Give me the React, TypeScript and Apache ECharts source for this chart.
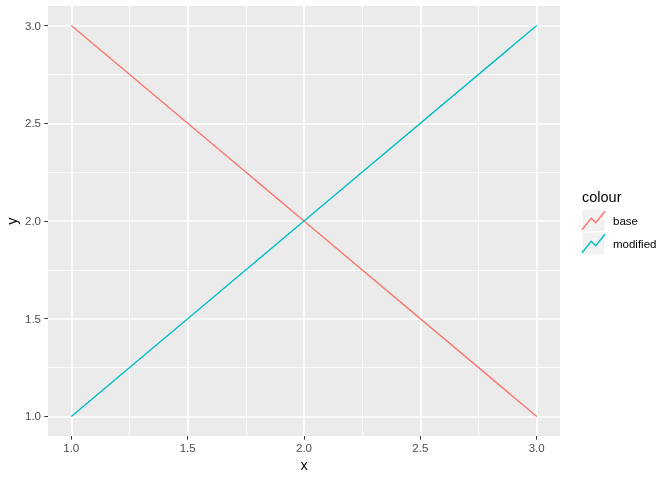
import React, { useEffect, useRef } from "react";
import * as echarts from "echarts";

const xValues = [1, 2, 3];
const baseValues = [3, 2, 1];
const modifiedValues = [1, 2, 3];
const seriesNames = ["base", "modified"];
const seriesColors = ["#F8766D", "#00BFC4"];
const xMajor = [1, 1.5, 2, 2.5, 3];
const xMinor = [1.25, 1.75, 2.25, 2.75];
const yMajor = [1, 1.5, 2, 2.5, 3];
const yMinor = [1.25, 1.75, 2.25, 2.75];
const legendTitle = "colour";
const xTitle = "x";
const yTitle = "y";

const FONT = "'Liberation Sans', Arial, Helvetica, sans-serif";

export default function App() {
  const ref = useRef<HTMLDivElement>(null);
  useEffect(() => {
    if (!ref.current) return;
    const chart = echarts.init(ref.current, undefined, { renderer: "svg" });
    const gridLeft = 48, gridTop = 6, gridRight = 560, gridBottom = 436;
    const keyX = 582, keyW = 23, keyH = 23, keyY0 = 209;
    const glyphX = [0, 0.4, 0.6, 1];
    const glyphY = [0.1, 0.6, 0.4, 0.9];
    const legendGraphics: any[] = [
      {
        type: "text", left: keyX, top: 189,
        style: { text: legendTitle, fontSize: 14.5, fill: "#000", fontFamily: FONT },
      },
    ];
    seriesNames.forEach((name, i) => {
      const y0 = keyY0 + i * keyH;
      legendGraphics.push({
        type: "rect",
        shape: { x: keyX, y: y0, width: keyW, height: keyH },
        style: { fill: "#F2F2F2", stroke: "#FFFFFF", lineWidth: 1.2 },
      });
      legendGraphics.push({
        type: "polyline",
        shape: {
          points: glyphX.map((gx, k) => [keyX + gx * keyW, y0 + keyH - glyphY[k] * keyH]),
        },
        style: { stroke: seriesColors[i], lineWidth: 1.4, fill: "none" },
      });
      legendGraphics.push({
        type: "text",
        x: 613, y: y0 + keyH / 2,
        style: { text: name, fontSize: 11.5, fill: "#000", fontFamily: FONT, verticalAlign: "middle" },
      });
    });

    const gridLineSeries = {
      type: "line",
      data: [],
      z: 1,
      silent: true,
      markLine: {
        z: 1,
        silent: true,
        symbol: "none",
        animation: false,
        label: { show: false },
        data: [
          ...xMinor.map((v) => ({ xAxis: v, lineStyle: { color: "#FFFFFF", width: 0.8, type: "solid" } })),
          ...yMinor.map((v) => ({ yAxis: v, lineStyle: { color: "#FFFFFF", width: 0.8, type: "solid" } })),
          ...xMajor.map((v) => ({ xAxis: v, lineStyle: { color: "#FFFFFF", width: 1.6, type: "solid" } })),
          ...yMajor.map((v) => ({ yAxis: v, lineStyle: { color: "#FFFFFF", width: 1.6, type: "solid" } })),
        ],
      },
    };

    chart.setOption({
      animation: false,
      grid: {
        left: gridLeft, top: gridTop, right: 672 - gridRight, bottom: 480 - gridBottom,
        show: true, backgroundColor: "#EBEBEB", borderWidth: 0,
      },
      xAxis: {
        type: "value", min: 0.9, max: 3.1,
        axisLine: { show: false },
        splitLine: { show: false },
        axisTick: { show: true, length: 3.7, customValues: xMajor, lineStyle: { color: "#333333", width: 1 } },
        axisLabel: {
          customValues: xMajor, margin: 6, color: "#4D4D4D", fontSize: 11.5, fontFamily: FONT,
          formatter: (v: number) => v.toFixed(1),
        },
      },
      yAxis: {
        type: "value", min: 0.9, max: 3.1,
        axisLine: { show: false },
        splitLine: { show: false },
        axisTick: { show: true, length: 3.7, customValues: yMajor, lineStyle: { color: "#333333", width: 1 } },
        axisLabel: {
          customValues: yMajor, margin: 7, color: "#4D4D4D", fontSize: 11.5, fontFamily: FONT,
          formatter: (v: number) => v.toFixed(1),
        },
      },
      graphic: [
        {
          type: "text", x: (gridLeft + gridRight) / 2, y: 465,
          style: { text: xTitle, fontSize: 14.5, fill: "#000", fontFamily: FONT, align: "center", verticalAlign: "middle" },
        },
        {
          type: "text", x: 12, y: (gridTop + gridBottom) / 2, rotation: Math.PI / 2,
          style: { text: yTitle, fontSize: 14.5, fill: "#000", fontFamily: FONT, align: "center", verticalAlign: "middle" },
        },
        ...legendGraphics,
      ],
      series: [
        gridLineSeries,
        {
          name: seriesNames[0], type: "line", z: 3, showSymbol: false, symbol: "none",
          data: xValues.map((x, i) => [x, baseValues[i]]),
          lineStyle: { color: seriesColors[0], width: 1.4 },
          itemStyle: { color: seriesColors[0] },
        },
        {
          name: seriesNames[1], type: "line", z: 3, showSymbol: false, symbol: "none",
          data: xValues.map((x, i) => [x, modifiedValues[i]]),
          lineStyle: { color: seriesColors[1], width: 1.4 },
          itemStyle: { color: seriesColors[1] },
        },
      ],
    });
    return () => chart.dispose();
  }, []);
  return <div ref={ref} style={{ position: "fixed", left: 0, top: 0, width: 672, height: 480 }} />;
}
